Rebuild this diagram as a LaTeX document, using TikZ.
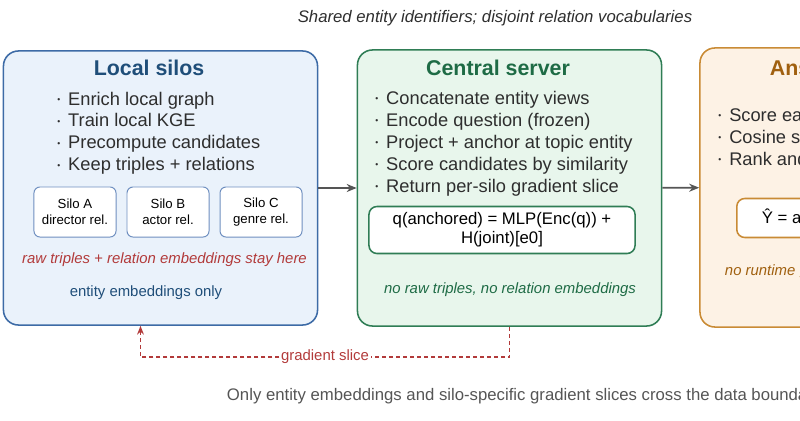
\documentclass[tikz,border=0pt]{standalone}
\usepackage{fontspec}
\setmainfont{Liberation Sans}
\usepackage{xcolor}
\usepackage{tikz}
\usetikzlibrary{positioning,arrows.meta}

\definecolor{silofill}{HTML}{EAF2FB}
\definecolor{siloline}{HTML}{3D6BA6}
\definecolor{silohead}{HTML}{1F4E79}
\definecolor{siloedge}{HTML}{6F8FC0}
\definecolor{servfill}{HTML}{E8F6EC}
\definecolor{servline}{HTML}{2F7D55}
\definecolor{servhead}{HTML}{1E6B45}
\definecolor{ansfill}{HTML}{FDF2E5}
\definecolor{ansline}{HTML}{C98B35}
\definecolor{anshead}{HTML}{A0600F}
\definecolor{gradred}{HTML}{B23A3A}
\definecolor{inkgray}{HTML}{2E2E2E}
\definecolor{flowgray}{HTML}{555555}

\newcommand{\bdot}{\raisebox{0.07cm}{\fontsize{6}{6}\selectfont •}\hspace{0.2cm}}

\tikzset{
    panel/.style = {draw, rounded corners = 0.375cm, line width = 1.1pt, minimum height = 6.85cm},
    headline/.style = {font = \fontsize{15.2}{18}\selectfont\bfseries},
    bullets/.style = {anchor = north west, inner sep = 0pt, align = left, text = inkgray, font = \fontsize{13}{15.6}\selectfont},
    silobox/.style = {draw = siloedge, fill = white, rounded corners = 0.15cm, line width = 0.7pt, minimum width = 2.05cm, minimum height = 1.25cm, align = center, text = black, font = \fontsize{9.4}{11.4}\selectfont},
    formbox/.style = {fill = white, rounded corners = 0.2cm, line width = 1.1pt, align = center, text = black, font = \fontsize{11.9}{13.5}\selectfont},
    note/.style = {font = \fontsize{10.6}{12}\selectfont\itshape},
    flow/.style = {draw = flowgray, line width = 1.2pt, -{Stealth[length = 0.25cm, width = 0.2cm]}},
    gradflow/.style = {draw = gradred, line width = 0.95pt, dash pattern = on 0.1cm off 0.075cm, -{Stealth[length = 0.22cm, width = 0.17cm]}}
}

\begin{document}
\begin{tikzpicture}[x = 0.025cm, y = -0.025cm]
        \useasboundingbox (0, 0) rectangle (800, 420);
        \clip (0, 0) rectangle (800, 420);

        \node[anchor = base, text = inkgray, font = \fontsize{11.9}{14}\selectfont\itshape] (top) at (495, 23)
        {Shared entity identifiers; disjoint relation vocabularies};

        \node[panel, fill = silofill, draw = siloline, minimum width = 7.85cm] (ls) at (160.5, 188) {};
        \node[panel, fill = servfill, draw = servline, minimum width = 7.6cm, minimum height = 6.9cm] (cs) at (509.5, 188) {};
        \node[panel, fill = ansfill, draw = ansline, minimum width = 7.6cm, minimum height = 6.975cm] (ar) at (852, 187.5) {};

        \node[headline, anchor = base, text = silohead] (lt) at (149, 76) {Local silos};
        \node[headline, anchor = base, text = servhead] (ct) at (498, 76) {Central server};
        \node[headline, anchor = base west, text = anshead] (at) at (765, 76) {Answer ranking};

        \node[bullets] (lb) at (57, 91.5)
        {\bdot Enrich local graph\\ \bdot Train local KGE\\ \bdot Precompute candidates\\ \bdot Keep triples + relations};
        \node[bullets] (cb) at (375, 91)
        {\bdot Concatenate entity views\\ \bdot Encode question (frozen)\\ \bdot Project + anchor at topic entity\\ \bdot Score candidates by similarity\\ \bdot Return per-silo gradient slice};
        \node[bullets] (ab) at (718, 108)
        {\bdot Score each candidate\\ \bdot Cosine similarity in joint space\\ \bdot Rank and return top-k};

        \node[silobox] (sa) at (75, 212) {Silo A\\director rel.};
        \node[silobox, right = 0.25cm of sa] (sb) {Silo B\\actor rel.};
        \node[silobox, right = 0.25cm of sb] (sc) {Silo C\\genre rel.};

        \node[note, anchor = base, text = gradred] (stay) at (164.5, 263) {raw triples + relation embeddings stay here};
        \node[note, anchor = base, text = silohead, font = \fontsize{10.6}{12}\selectfont] (only) at (146, 296) {entity embeddings only};

        \node[formbox, draw = servline, minimum width = 6.65cm, minimum height = 1.175cm] (fq) at (502, 230)
        {q(anchored) = MLP(Enc(q)) +\\H(joint)[e0]};
        \node[note, anchor = base, text = servhead] (noraw) at (510, 293) {no raw triples, no relation embeddings};

        \node[formbox, draw = ansline, anchor = west, inner xsep = 0.625cm, minimum height = 0.975cm] (fy) at (736, 218)
        {Ŷ = argmax cos(q, e)};
        \node[note, anchor = base west, text = anshead] (nogr) at (720, 275) {no runtime gradient to silos};

        \draw[flow] (ls) -- (cs);
        \draw[flow] (cs) -- (ar);

        \coordinate (gin) at ([xshift = -0.5cm]ls.south);
        \node[inner sep = 1pt, text = gradred, font = \fontsize{10.6}{12}\selectfont] (gs) at (325, 357) {gradient slice};
        \draw[gradflow] (cs.south) |- (gs) -| (gin);

        \node[anchor = base west, text = flowgray, font = \fontsize{11.9}{14}\selectfont] (bottom) at (222, 400)
        {Only entity embeddings and silo-specific gradient slices cross the data boundary.};
    \end{tikzpicture}
\end{document}
